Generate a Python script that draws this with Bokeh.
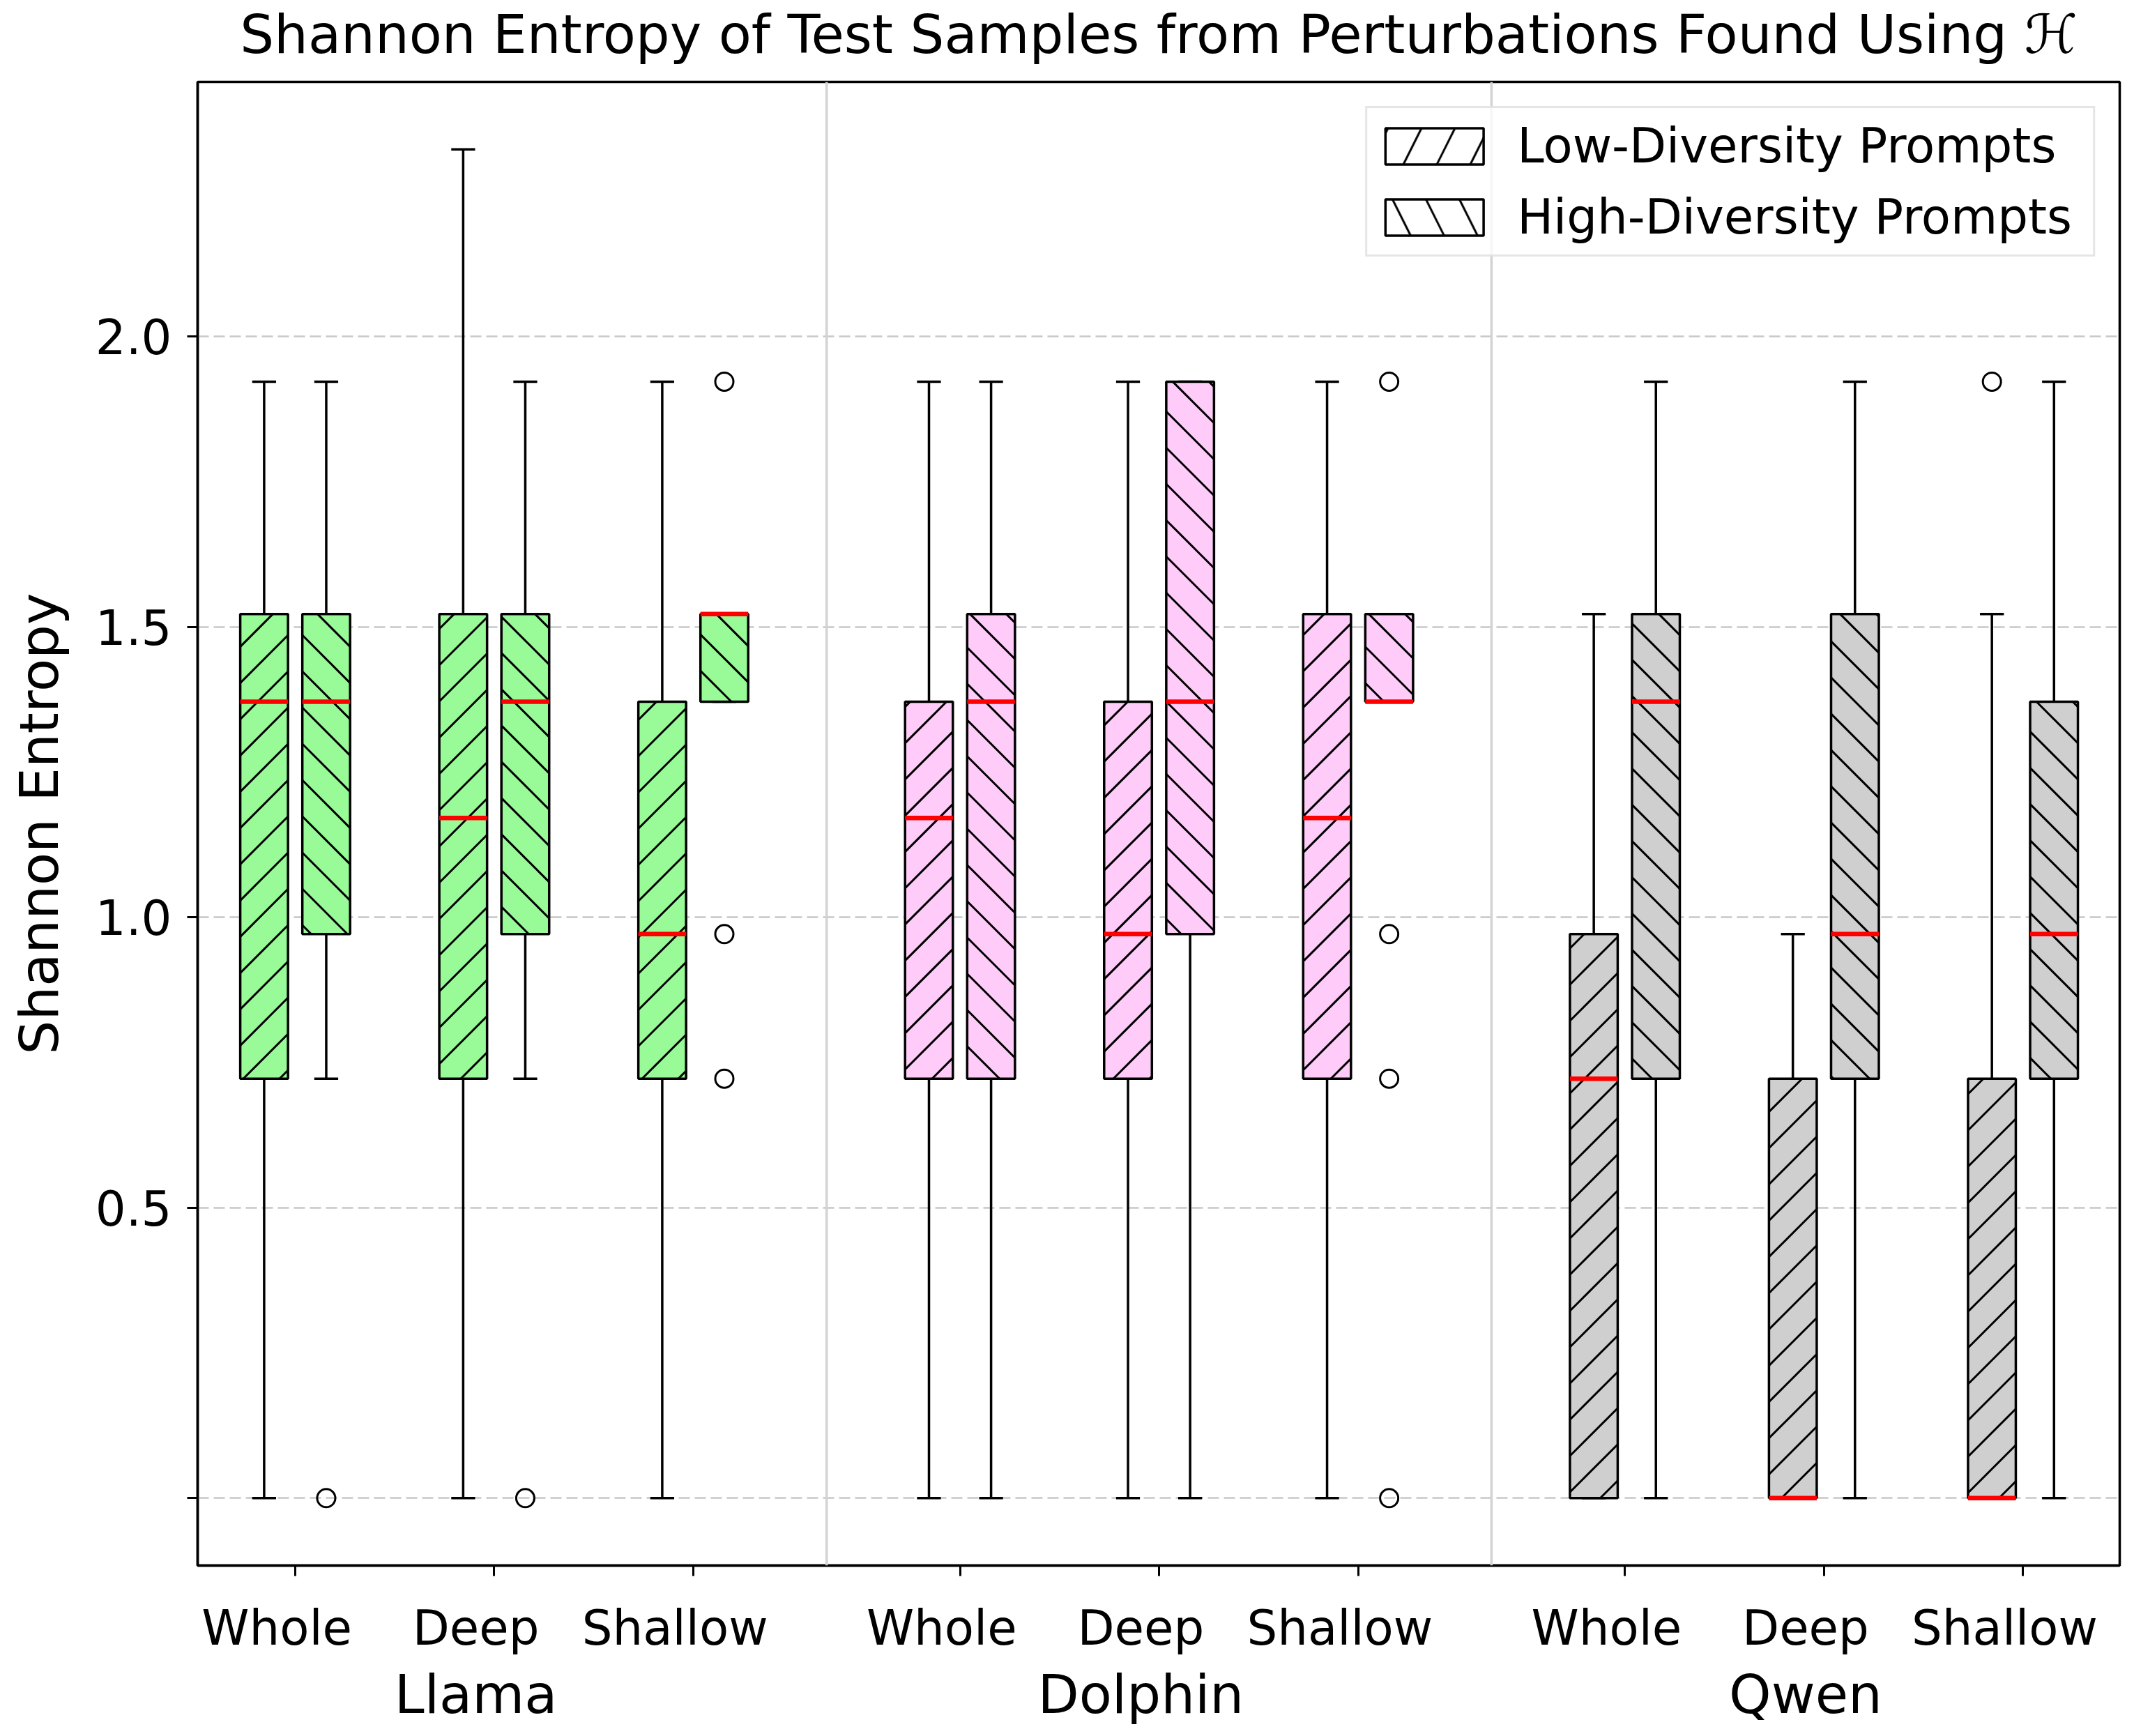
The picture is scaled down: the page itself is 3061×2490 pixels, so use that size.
import math
import numpy as np
from bokeh.plotting import figure
from bokeh.models import (ColumnDataSource, Span, Legend, LegendItem, LinearAxis, Title,
                          FixedTicker, CustomJSTickFormatter, Range1d)
from bokeh.embed import file_html
from bokeh.resources import INLINE

# ---------------- data ----------------
models = ["Llama", "Dolphin", "Qwen"]
scopes = ["Whole", "Deep", "Shallow"]
model_colors = ["#98fb98", "#ffccfa", "#cfcfcf"]

# order: Llama W/D/S, Dolphin W/D/S, Qwen W/D/S
low_q1  = [0.722, 0.722, 0.722, 0.722, 0.722, 0.722, 0.0,   0.0,   0.0]
low_med = [1.371, 1.171, 0.971, 1.171, 0.971, 1.171, 0.722, 0.0,   0.0]
low_q3  = [1.522, 1.522, 1.371, 1.371, 1.371, 1.522, 0.971, 0.722, 0.722]
low_wlo = [0.0,   0.0,   0.0,   0.0,   0.0,   0.0,   0.0,   0.0,   0.0]
low_whi = [1.922, 2.322, 1.922, 1.922, 1.922, 1.922, 1.522, 0.971, 1.522]
low_fliers = [[], [], [], [], [], [], [], [], [1.922]]

high_q1  = [0.971, 0.971, 1.371, 0.722, 0.971, 1.371, 0.722, 0.722, 0.722]
high_med = [1.371, 1.371, 1.522, 1.371, 1.371, 1.371, 1.371, 0.971, 0.971]
high_q3  = [1.522, 1.522, 1.522, 1.522, 1.922, 1.522, 1.522, 1.522, 1.371]
high_wlo = [0.722, 0.722, 1.371, 0.0,   0.0,   1.371, 0.0,   0.0,   0.0]
high_whi = [1.922, 1.922, 1.522, 1.922, 1.922, 1.522, 1.922, 1.922, 1.922]
high_fliers = [[0.0], [0.0], [1.922, 0.971, 0.722], [], [], [1.922, 0.971, 0.722, 0.0], [], [], []]

y_ticks = [0.0, 0.5, 1.0, 1.5, 2.0]
series_labels = ["Low-Diversity Prompts", "High-Diversity Prompts"]
title_text = "Shannon Entropy of Test Samples from Perturbations Found Using \u210B"
y_label = "Shannon Entropy"

# ---------------- layout constants ----------------
GROUP_STEP = 3.34
OFFSET = 0.156
BOX_W = 0.24
CAP_W = 0.12
LABEL_SHIFT = -0.092
FONT = "DejaVu Sans"
FRAME_W, FRAME_H = 2757, 2128
X0, X1 = -0.490, 9.166
Y0, Y1 = -0.1161, 2.4380
HATCH_SPACING = 52   # px between hatch lines (vertical)
HATCH_WEIGHT = 3

KX = FRAME_W / (X1 - X0)
KY = FRAME_H / (Y1 - Y0)

positions = [g * GROUP_STEP + c for g in range(len(models)) for c in range(len(scopes))]
colors = [model_colors[g] for g in range(len(models)) for c in range(len(scopes))]

p = figure(frame_width=FRAME_W, frame_height=FRAME_H, title=None,
           x_range=Range1d(X0, X1), y_range=Range1d(Y0, Y1),
           output_backend="svg", toolbar_location=None,
           min_border_left=283, min_border_right=10, min_border_top=117, min_border_bottom=229)
p.background_fill_color = "white"
p.border_fill_color = "white"
p.outline_line_color = "black"
p.outline_line_width = 3.5

# small spacer next to the frame, then the real title above it
p.add_layout(Title(text=" ", text_font_size="8px", standoff=12), "above")
p.add_layout(Title(text=title_text, text_font=FONT, text_font_size="77px",
                   text_font_style="normal", text_color="black", align="center",
                   standoff=2), "above")

# x axis: tick marks only
p.xaxis.ticker = FixedTicker(ticks=positions)
p.xaxis.formatter = CustomJSTickFormatter(code="return ''")
p.xaxis.major_label_text_font_size = "1px"
p.xaxis.major_label_standoff = 0
p.xaxis.major_tick_out = 15
p.xaxis.major_tick_in = 0
p.xaxis.major_tick_line_width = 3
p.xaxis.major_tick_line_color = "black"
p.xaxis.minor_tick_line_color = None
p.xaxis.axis_line_width = 3.5
p.xaxis.axis_line_color = "black"

nearest_code = """
let i = 0, b = 1e9;
for (let k = 0; k < pos.length; k++) {
  const d = Math.abs(pos[k] - tick);
  if (d < b) { b = d; i = k; }
}
return labs[i];
"""

scope_ticks = [x + LABEL_SHIFT for x in positions]
scope_labels = [scopes[i % 3] for i in range(len(positions))]
scope_axis = LinearAxis(ticker=FixedTicker(ticks=scope_ticks),
                        formatter=CustomJSTickFormatter(args=dict(pos=scope_ticks, labs=scope_labels),
                                                        code=nearest_code))
model_ticks = [positions[3 * g + 1] + LABEL_SHIFT for g in range(len(models))]
model_axis = LinearAxis(ticker=FixedTicker(ticks=model_ticks),
                        formatter=CustomJSTickFormatter(args=dict(pos=model_ticks, labs=models),
                                                        code=nearest_code))
for ax, fs, so in ((scope_axis, "69px", 34), (model_axis, "77px", 8)):
    ax.axis_line_color = None
    ax.major_tick_line_color = None
    ax.minor_tick_line_color = None
    ax.major_tick_out = 0
    ax.major_tick_in = 0
    ax.major_label_text_font = FONT
    ax.major_label_text_font_size = fs
    ax.major_label_text_color = "black"
    ax.major_label_standoff = so
    p.add_layout(ax, "below")

p.yaxis.ticker = FixedTicker(ticks=y_ticks)
p.yaxis.formatter = CustomJSTickFormatter(code="return tick == 0 ? '' : tick.toFixed(1)")
p.yaxis.major_label_text_font = FONT
p.yaxis.major_label_text_font_size = "69px"
p.yaxis.major_label_text_color = "black"
p.yaxis.major_label_standoff = 22
p.yaxis.major_tick_out = 15
p.yaxis.major_tick_in = 0
p.yaxis.major_tick_line_width = 3
p.yaxis.major_tick_line_color = "black"
p.yaxis.minor_tick_line_color = None
p.yaxis.axis_line_width = 3.5
p.yaxis.axis_line_color = "black"
p.yaxis.axis_label = y_label
p.yaxis.axis_label_text_font = FONT
p.yaxis.axis_label_text_font_size = "77px"
p.yaxis.axis_label_text_font_style = "normal"
p.yaxis.axis_label_text_color = "black"
p.yaxis.axis_label_standoff = 33

p.xgrid.visible = False
p.ygrid.grid_line_color = "#c8c8c8"
p.ygrid.grid_line_width = 2.5
p.ygrid.grid_line_dash = "16 7"

# separators between model groups
for g in range(1, len(models)):
    sep = (positions[3 * g - 1] + positions[3 * g]) / 2
    p.add_layout(Span(location=sep, dimension="height", line_color="#d3d3d3", line_width=3.5))


def hatch_segments(lefts, rights, bots, tops, forward):
    """45-degree (in screen space) hatch lines clipped to each box."""
    x0s, y0s, x1s, y1s = [], [], [], []
    S = HATCH_SPACING
    for l, r, b, t in zip(lefts, rights, bots, tops):
        u0, u1, v0, v1 = l * KX, r * KX, b * KY, t * KY
        if forward:          # v = u + c
            n0, n1 = math.ceil((v0 - u1) / S), math.floor((v1 - u0) / S)
            for n in range(n0, n1 + 1):
                c = n * S
                ua, ub = max(u0, v0 - c), min(u1, v1 - c)
                if ub - ua > 0.5:
                    x0s.append(ua / KX); y0s.append((ua + c) / KY)
                    x1s.append(ub / KX); y1s.append((ub + c) / KY)
        else:                # v = -u + c
            n0, n1 = math.ceil((v0 + u0) / S), math.floor((v1 + u1) / S)
            for n in range(n0, n1 + 1):
                c = n * S
                ua, ub = max(u0, c - v1), min(u1, c - v0)
                if ub - ua > 0.5:
                    x0s.append(ua / KX); y0s.append((c - ua) / KY)
                    x1s.append(ub / KX); y1s.append((c - ub) / KY)
    return dict(x0=x0s, y0=y0s, x1=x1s, y1=y1s)


def draw_series(q1, med, q3, wlo, whi, fliers, off, forward):
    xs = [x + off for x in positions]
    lefts = [x - BOX_W / 2 for x in xs]
    rights = [x + BOX_W / 2 for x in xs]
    src = ColumnDataSource(dict(
        x=xs, left=lefts, right=rights,
        cl=[x - CAP_W / 2 for x in xs], cr=[x + CAP_W / 2 for x in xs],
        q1=q1, med=med, q3=q3, wlo=wlo, whi=whi, color=colors))
    p.segment(x0="x", y0="q1", x1="x", y1="wlo", source=src, line_color="black", line_width=3.5)
    p.segment(x0="x", y0="q3", x1="x", y1="whi", source=src, line_color="black", line_width=3.5)
    p.segment(x0="cl", y0="wlo", x1="cr", y1="wlo", source=src, line_color="black", line_width=3.5)
    p.segment(x0="cl", y0="whi", x1="cr", y1="whi", source=src, line_color="black", line_width=3.5)
    p.quad(left="left", right="right", bottom="q1", top="q3", source=src,
           fill_color="color", line_color=None)
    hs = ColumnDataSource(hatch_segments(lefts, rights, q1, q3, forward))
    p.segment(x0="x0", y0="y0", x1="x1", y1="y1", source=hs, line_color="black",
              line_width=HATCH_WEIGHT)
    p.quad(left="left", right="right", bottom="q1", top="q3", source=src,
           fill_color=None, line_color="black", line_width=3.5)
    p.segment(x0="left", y0="med", x1="right", y1="med", source=src, line_color="#ff0000", line_width=6.5)
    fx, fy = [], []
    for x, fl in zip(xs, fliers):
        for v in fl:
            fx.append(x)
            fy.append(v)
    p.scatter(fx, fy, marker="circle", size=26, fill_color=None, line_color="black", line_width=3)


draw_series(low_q1, low_med, low_q3, low_wlo, low_whi, low_fliers, -OFFSET, True)
draw_series(high_q1, high_med, high_q3, high_wlo, high_whi, high_fliers, OFFSET, False)

# legend proxies (not drawn: NaN geometry)
nan = np.array([np.nan])
leg_renderers = []
for hatch in ("/", "\\"):
    leg_renderers.append(p.quad(left=nan, right=nan, bottom=nan, top=nan, fill_color="white",
                                line_color="black", line_width=3.5, hatch_pattern=hatch,
                                hatch_color="black", hatch_weight=HATCH_WEIGHT, hatch_scale=96))
legend = Legend(items=[LegendItem(label=series_labels[i] + " ", renderers=[leg_renderers[i]])
                       for i in range(2)],
                location="top_right")
legend.label_text_font = FONT
legend.label_text_font_size = "69px"
legend.label_text_color = "black"
legend.glyph_width = 176
legend.glyph_height = 65
legend.label_height = 92
legend.padding = 8
legend.spacing = 10
legend.label_standoff = 31
legend.margin = 35
legend.border_line_color = "#cccccc"
legend.border_line_width = 3
legend.background_fill_alpha = 0.8
p.add_layout(legend)

open("out.html", "w").write(file_html(p, INLINE))
